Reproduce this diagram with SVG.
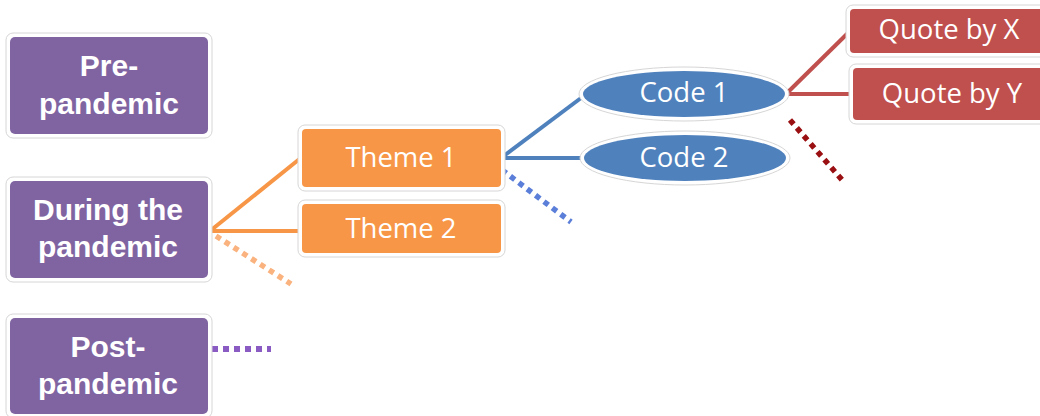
<svg xmlns="http://www.w3.org/2000/svg" width="1040" height="416" viewBox="0 0 1040 416">
<style>
.halo{fill:#fff;stroke:#d6d6d6;stroke-width:1}
.p{fill:#8064a2}
.o{fill:#f79646}
.b{fill:#4f81bd}
.r{fill:#c0504d}
.tb{font-family:"Liberation Sans",Arial,sans-serif;font-weight:bold;font-size:30px;fill:#fff;text-anchor:middle}
.t{font-family:"Open Sans","Noto Sans",sans-serif;font-size:27.5px;fill:#fff;text-anchor:middle}
.ln{fill:none;stroke-width:4}
.dot{fill:none;stroke-width:5.5;stroke-dasharray:5.5 5}
</style>
<rect width="1040" height="416" fill="#fff"/>
<g id="connectors">
<line class="ln" x1="210" y1="231" x2="302" y2="157" stroke="#f79646"/>
<line class="ln" x1="210" y1="231" x2="302" y2="231" stroke="#f79646"/>
<line class="dot" x1="216" y1="236" x2="291" y2="284" stroke="#fab27e"/>
<line class="ln" x1="501" y1="158" x2="585" y2="95" stroke="#4f81bd"/>
<line class="ln" x1="501" y1="158" x2="585" y2="158" stroke="#4f81bd"/>
<line class="dot" x1="502" y1="170" x2="571" y2="222" stroke="#5b7fd9"/>
<line class="ln" x1="786" y1="94" x2="850" y2="31" stroke="#c0504d"/>
<line class="ln" x1="786" y1="94" x2="853" y2="94" stroke="#c0504d"/>
<line class="dot" x1="790" y1="120" x2="843" y2="181" stroke="#9a0f12"/>
<line class="dot" x1="212" y1="349" x2="271" y2="349" stroke="#8a5bc2" style="stroke-dasharray:6 5;stroke-width:6"/>
</g>
<g id="pre">
<rect class="halo" x="6" y="33" width="206" height="105" rx="7"/>
<rect class="p" x="10" y="37" width="198" height="97" rx="5"/>
<text class="tb" x="109" y="76">Pre-</text>
<text class="tb" x="109" y="114">pandemic</text>
</g>
<g id="during">
<rect class="halo" x="6" y="177" width="206" height="105" rx="7"/>
<rect class="p" x="10" y="181" width="198" height="97" rx="5"/>
<text class="tb" x="108" y="220">During the</text>
<text class="tb" x="108" y="257">pandemic</text>
</g>
<g id="post">
<rect class="halo" x="6" y="314" width="206" height="104" rx="7"/>
<rect class="p" x="10" y="318" width="198" height="96" rx="5"/>
<text class="tb" x="108" y="357">Post-</text>
<text class="tb" x="108" y="394">pandemic</text>
</g>
<g id="theme1">
<rect class="halo" x="298" y="125" width="207" height="66" rx="7"/>
<rect class="o" x="302" y="129" width="199" height="58" rx="4"/>
<text class="t" x="401" y="167">Theme 1</text>
</g>
<g id="theme2">
<rect class="halo" x="298" y="200" width="207" height="57" rx="7"/>
<rect class="o" x="302" y="204" width="199" height="49" rx="4"/>
<text class="t" x="401" y="238">Theme 2</text>
</g>
<g id="code1">
<ellipse class="halo" cx="684" cy="94" rx="105" ry="27"/>
<ellipse class="b" cx="684" cy="94" rx="101" ry="23"/>
<text class="t" x="684" y="102">Code 1</text>
</g>
<g id="code2">
<ellipse class="halo" cx="685" cy="158" rx="105" ry="27"/>
<ellipse class="b" cx="685" cy="158" rx="101" ry="23"/>
<text class="t" x="684" y="167">Code 2</text>
</g>
<g id="quoteX">
<rect class="halo" x="846" y="5" width="210" height="52" rx="7"/>
<rect class="r" x="850" y="9" width="200" height="44" rx="4"/>
<text class="t" x="949" y="39">Quote by X</text>
</g>
<g id="quoteY">
<rect class="halo" x="849" y="64" width="210" height="60" rx="7"/>
<rect class="r" x="853" y="68" width="200" height="52" rx="4"/>
<text class="t" x="952" y="103">Quote by Y</text>
</g>
</svg>
